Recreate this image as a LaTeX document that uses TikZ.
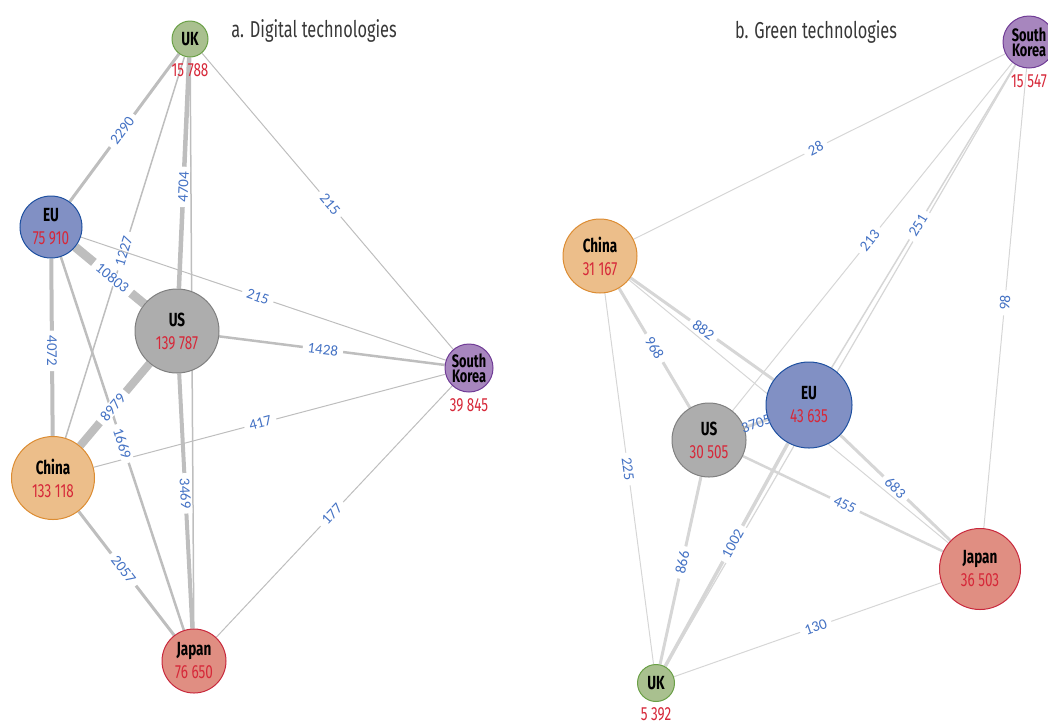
\documentclass[tikz,border=0pt]{standalone}
\usepackage{fontspec}
\setmainfont{Fira Sans}
\newfontfamily\cond{Fira Sans}[FakeStretch=0.71]
\newfontfamily\lbl{Carlito}
\usetikzlibrary{backgrounds}
\definecolor{edgeL}{RGB}{190,190,190}
\definecolor{edgeR}{RGB}{214,214,214}
\definecolor{valred}{RGB}{214,40,57}
\definecolor{labblue}{RGB}{68,114,196}
\definecolor{ttlgray}{RGB}{55,55,55}
\definecolor{ukF}{RGB}{169,192,143}\definecolor{ukD}{RGB}{106,160,70}
\definecolor{euF}{RGB}{129,144,196}\definecolor{euD}{RGB}{30,80,160}
\definecolor{usF}{RGB}{173,173,173}\definecolor{usD}{RGB}{128,128,128}
\definecolor{cnF}{RGB}{236,190,138}\definecolor{cnD}{RGB}{220,140,50}
\definecolor{skF}{RGB}{167,134,190}\definecolor{skD}{RGB}{112,60,150}
\definecolor{jpF}{RGB}{224,142,130}\definecolor{jpD}{RGB}{200,40,60}
\tikzset{
  country/.style={circle, draw, line width=1pt, inner sep=0pt, align=center,
    font=\cond\fontsize{19}{23}\selectfont, text=black},
  skname/.style={country, font=\cond\fontsize{18}{15}\selectfont},
  valtxt/.style={inner sep=0pt, text=valred, font=\cond\fontsize{19}{23}\selectfont},
  ttltxt/.style={inner sep=0pt, text=ttlgray, font=\cond\fontsize{23}{26}\selectfont},
  lnkL/.style={draw=edgeL},
  lnkR/.style={draw=edgeR},
  wlab/.style={sloped, fill=white, inner xsep=5pt, inner ysep=1pt, text=labblue, font=\lbl\fontsize{15}{17}\selectfont},
  olab/.style={sloped, inner sep=0pt, text=labblue, font=\lbl\fontsize{15}{17}\selectfont}
}
\begin{document}
\begin{tikzpicture}[x=1pt,y=-1pt]
\useasboundingbox (0,0) rectangle (1048,724);
\clip (0,0) rectangle (1048,724);

% titles
\node[ttltxt] (tA) at (314,31) {a. Digital technologies};
\node[ttltxt] (tB) at (816,32) {b. Green technologies};

% ---- left: digital ----
\node[country, fill=ukF, draw=ukD, minimum size=36pt] (lUK) at (190,39) {\textbf{UK}};
\node[valtxt] (lUKv) at (190,70) {15 788};
\node[country, fill=euF, draw=euD, minimum size=62pt] (lEU) at (51,227) {\textbf{EU}\\\textcolor{valred}{75 910}};
\node[country, fill=usF, draw=usD, minimum size=84pt] (lUS) at (177,331) {\textbf{US}\\\textcolor{valred}{139 787}};
\node[country, fill=cnF, draw=cnD, minimum size=83pt] (lCN) at (53,478) {\textbf{China}\\\textcolor{valred}{133 118}};
\node[skname, fill=skF, draw=skD, minimum size=48pt] (lSK) at (469,368) {\textbf{South}\\\textbf{Korea}};
\node[valtxt] (lSKv) at (469,405) {39 845};
\node[country, fill=jpF, draw=jpD, minimum size=64pt] (lJP) at (194,661) {\textbf{Japan}\\\textcolor{valred}{76 650}};

% ---- right: green ----
\node[skname, fill=skF, draw=skD, minimum size=52pt] (rSK) at (1029,42) {\textbf{South}\\\textbf{Korea}};
\node[valtxt] (rSKv) at (1029,81) {15 547};
\node[country, fill=cnF, draw=cnD, minimum size=74pt] (rCN) at (600,256) {\textbf{China}\\\textcolor{valred}{31 167}};
\node[country, fill=euF, draw=euD, minimum size=86pt] (rEU) at (809,405) {\textbf{EU}\\\textcolor{valred}{43 635}};
\node[country, fill=usF, draw=usD, minimum size=74pt] (rUS) at (709,440) {\textbf{US}\\\textcolor{valred}{30 505}};
\node[country, fill=jpF, draw=jpD, minimum size=81pt] (rJP) at (980,569) {\textbf{Japan}\\\textcolor{valred}{36 503}};
\node[country, fill=ukF, draw=ukD, minimum size=37pt] (rUK) at (656,683) {\textbf{UK}};
\node[valtxt] (rUKv) at (656,714) {5 392};

% label of the short US--EU link, drawn over the circles
\path (rUS) -- node[olab,pos=.5]{3705} (rEU);

\begin{pgfonlayer}{background}
% left edges
\draw[lnkL, line width=1.5pt] (lUK) -- (lJP);
\draw[lnkL, line width=1.5pt] (lUK) -- node[wlab,pos=.51]{1227} (lCN);
\draw[lnkL, line width=1pt] (lUK) -- node[wlab,pos=.51]{215} (lSK);
\draw[lnkL, line width=1pt] (lEU) -- node[wlab,pos=.485]{215} (lSK);
\draw[lnkL, line width=1pt] (lCN) -- node[wlab,pos=.474]{417} (lSK);
\draw[lnkL, line width=1pt] (lSK) -- node[wlab,pos=.51]{177} (lJP);
\draw[lnkL, line width=2.5pt] (lUS) -- node[wlab,pos=.46]{1428} (lSK);
\draw[lnkL, line width=3pt] (lUK) -- node[wlab,pos=.52]{2290} (lEU);
\draw[lnkL, line width=4.5pt] (lUK) -- node[wlab,pos=.56]{4704} (lUS);
\draw[lnkL, line width=4pt] (lEU) -- node[wlab,pos=.52]{4072} (lCN);
\draw[lnkL, line width=2.5pt] (lEU) -- node[wlab,pos=.5]{1669} (lJP);
\draw[lnkL, line width=8pt] (lUS) -- node[wlab,pos=.53]{8979} (lCN);
\draw[lnkL, line width=4pt] (lUS) -- node[wlab,pos=.47]{3469} (lJP);
\draw[lnkL, line width=3pt] (lCN) -- node[wlab,pos=.47]{2057} (lJP);
\draw[lnkL, line width=9pt] (lEU) -- node[wlab,pos=.54]{10803} (lUS);

% right edges
\draw[lnkR, line width=1pt] (rSK) -- node[wlab,pos=.51]{28} (rCN);
\draw[lnkR, line width=1pt] (rSK) -- node[wlab,pos=.51]{213} (rUS);
\draw[lnkR, line width=1.2pt] (rSK) -- (rUK);
\draw[lnkR, line width=1.5pt] (rSK) -- node[wlab,pos=.53]{251} (rEU);
\draw[lnkR, line width=1pt] (rSK) -- node[wlab,pos=.51]{98} (rJP);
\draw[lnkR, line width=1pt] (rCN) -- (rJP);
\draw[lnkR, line width=1pt] (rCN) -- node[wlab,pos=.474]{225} (rUK);
\draw[lnkR, line width=3pt] (rCN) -- node[wlab,pos=.50]{968} (rUS);
\draw[lnkR, line width=3pt] (rCN) -- node[wlab,pos=.51]{882} (rEU);
\draw[lnkR, line width=2.5pt] (rUS) -- node[wlab,pos=.51]{455} (rJP);
\draw[lnkR, line width=3pt] (rUS) -- node[wlab,pos=.457]{866} (rUK);
\draw[lnkR, line width=3pt] (rEU) -- node[wlab,pos=.50]{683} (rJP);
\draw[lnkR, line width=3.5pt] (rEU) -- node[wlab,pos=.45]{1002} (rUK);
\draw[lnkR, line width=1pt] (rJP) -- node[wlab,pos=.47]{130} (rUK);
\draw[lnkR, line width=3pt] (rUS) -- (rEU);
\end{pgfonlayer}
\end{tikzpicture}
\end{document}
